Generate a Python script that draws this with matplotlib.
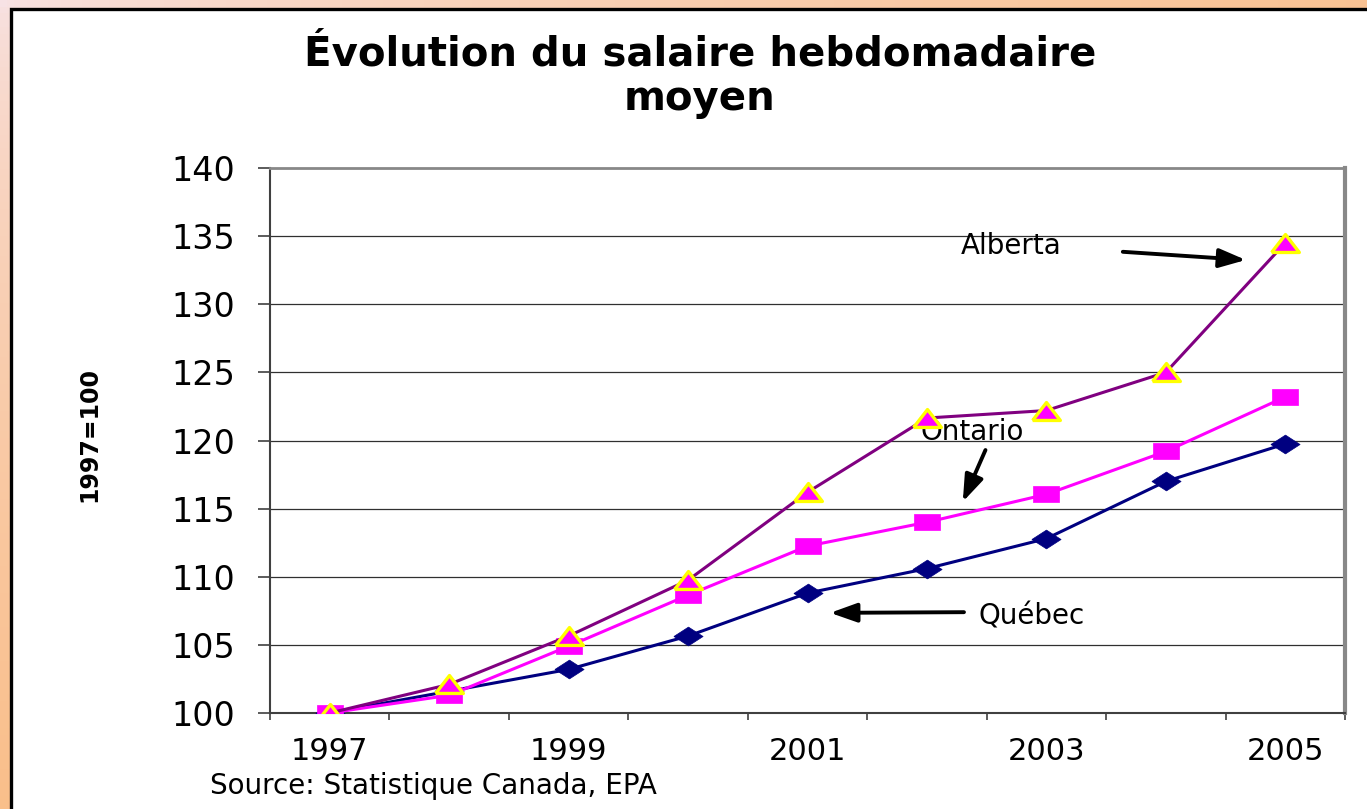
import numpy as np
import matplotlib
matplotlib.use('Agg')
import matplotlib.pyplot as plt
from matplotlib.patches import Rectangle

plt.rcParams['font.family'] = ['DejaVu Sans']

# données (indice 1997=100)
years = [1997, 1998, 1999, 2000, 2001, 2002, 2003, 2004, 2005]
quebec = [100.0, 101.6, 103.2, 105.65, 108.8, 110.6, 112.8, 117.0, 119.75]
ontario = [100.0, 101.3, 104.9, 108.65, 112.25, 114.0, 116.05, 119.2, 123.2]
alberta = [100.0, 102.1, 105.65, 109.75, 116.2, 121.65, 122.2, 125.0, 134.5]

y_ticks = [100, 105, 110, 115, 120, 125, 130, 135, 140]
x_labels = ['1997', '1999', '2001', '2003', '2005']

# marqueurs élargis (le graphique d'origine est étiré horizontalement)
wide_square = [(-1.65, -1), (1.65, -1), (1.65, 1), (-1.65, 1), (-1.65, -1)]
wide_diamond = [(-1.55, 0), (0, -1), (1.55, 0), (0, 1), (-1.55, 0)]
wide_triangle = [(-1.55, -1), (1.55, -1), (0, 1), (-1.55, -1)]

W, H = 1367, 809
fig = plt.figure(figsize=(W / 100, H / 100), dpi=100)

# fond dégradé rose -> orange
bg = fig.add_axes([0, 0, 1, 1])
bg.axis('off')
gx, gy = np.meshgrid(np.linspace(0, 1, 200), np.linspace(0, 1, 120))
t = np.clip(0.75 * gx + 0.9 * gy, 0, 1) ** 0.6
c0 = np.array([0.97, 0.89, 0.90])
c1 = np.array([0.98, 0.74, 0.52])
img = c0[None, None, :] * (1 - t[..., None]) + c1[None, None, :] * t[..., None]
bg.imshow(img, extent=[0, 1, 0, 1], aspect='auto', origin='upper')
bg.set_xlim(0, 1)
bg.set_ylim(0, 1)
bg.add_patch(Rectangle((10.5 / W, -0.05), 1.1, 1.05 - 8.5 / H,
                       facecolor='white', edgecolor='black', lw=2.4, clip_on=False))

ax = fig.add_axes([270 / W, 1 - 713 / H, (1345 - 270) / W, (713 - 168) / H])
ax.set_facecolor('white')
x = np.arange(len(years))

ax.plot(x, quebec, color='#000080', lw=2.2, marker=wide_diamond, ms=21,
        mfc='#000080', mec='#000080', mew=0.5, zorder=3)
ax.plot(x, ontario, color='#FF00FF', lw=2.2, marker=wide_square, ms=19,
        mfc='#FF00FF', mec='#FF00FF', mew=0.5, zorder=4)
ax.plot(x, alberta, color='#800080', lw=2.2, marker=wide_triangle, ms=20,
        mfc='#FF00FF', mec='#FFFF00', mew=2.4, zorder=5)

ax.set_xlim(-0.5, len(years) - 0.5)
ax.set_ylim(100, 140)
ax.set_yticks(y_ticks)
ax.set_yticklabels([str(v) for v in y_ticks], fontsize=24)
ax.tick_params(axis='y', length=9, width=1.2, pad=16, color='#404040')
for v in y_ticks[1:-1]:
    ax.axhline(v, color='#303030', lw=0.9, zorder=1)

ax.set_xticks([0, 2, 4, 6, 8])
ax.set_xticklabels(x_labels, fontsize=22)
ax.set_xticks(np.arange(-0.5, len(years), 1), minor=True)
ax.tick_params(axis='x', which='major', length=0, pad=17)
ax.tick_params(axis='x', which='minor', length=5, width=1.2, color='#404040')

ax.spines['left'].set_color('#404040')
ax.spines['bottom'].set_color('#404040')
ax.spines['left'].set_linewidth(1.5)
ax.spines['bottom'].set_linewidth(1.5)
ax.spines['right'].set_color('#888888')
ax.spines['right'].set_linewidth(3)
ax.spines['top'].set_color('#888888')
ax.spines['top'].set_linewidth(2)

arrow = dict(arrowstyle='-|>,head_length=0.9,head_width=0.32', color='black',
             lw=2.8, mutation_scale=18, shrinkA=0, shrinkB=0)
ax.annotate('', xy=(7.67, 133.25), xytext=(6.64, 133.85), arrowprops=arrow)
ax.annotate('', xy=(5.30, 115.5), xytext=(5.49, 119.3), arrowprops=arrow)
ax.annotate('', xy=(4.19, 107.35), xytext=(5.31, 107.4), arrowprops=arrow)
ax.text(5.28, 134.3, 'Alberta', fontsize=20, va='center', ha='left')
ax.text(4.95, 120.6, 'Ontario', fontsize=20, va='center', ha='left')
ax.text(5.43, 107.05, 'Québec', fontsize=20, va='center', ha='left')

fig.text(700 / W, 1 - 66 / H, 'Évolution du salaire hebdomadaire',
         fontsize=29, fontweight='bold', ha='center', va='baseline')
fig.text(700 / W, 1 - 110 / H, 'moyen',
         fontsize=29, fontweight='bold', ha='center', va='baseline')
fig.text(89 / W, 1 - 434 / H, '1997=100', fontsize=17, fontweight='bold',
         rotation=90, ha='center', va='center')
fig.text(210 / W, 1 - 794 / H, 'Source: Statistique Canada, EPA',
         fontsize=20, ha='left', va='baseline')

fig.savefig('out.png', dpi=100)
